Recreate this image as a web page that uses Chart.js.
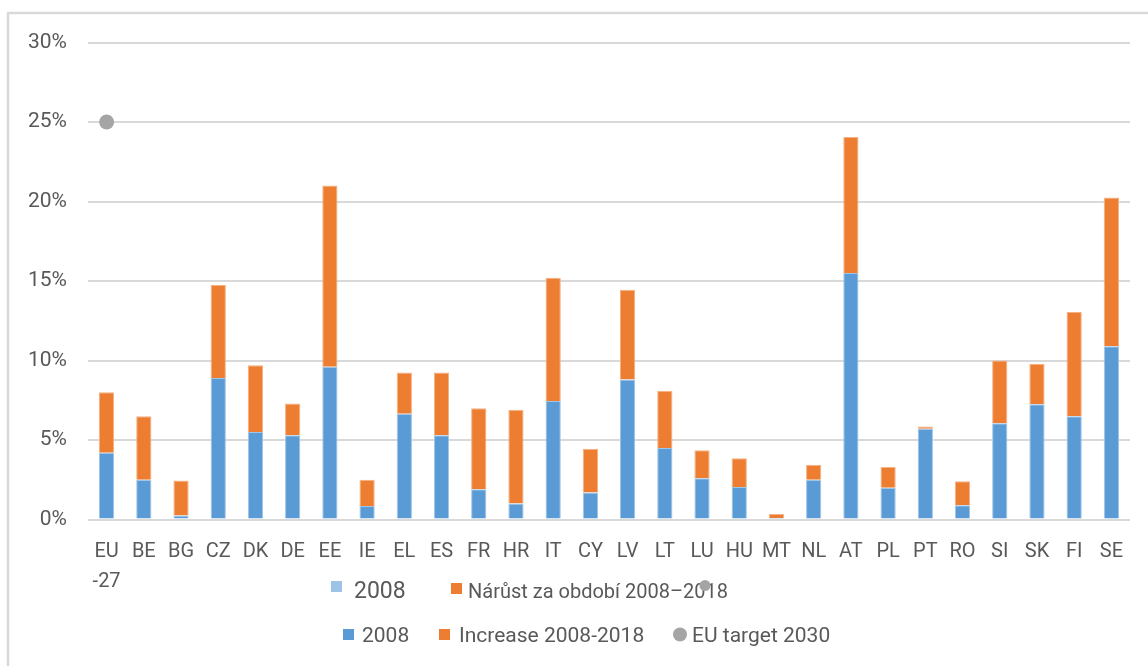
<!DOCTYPE html>
<html>
<head>
<meta charset="utf-8">
<script src="https://cdn.jsdelivr.net/npm/chart.js@4"></script>
<style>
html, body { margin:0; padding:0; background:#fff; }
</style>
</head>
<body>
<canvas id="chart" width="1148" height="666"></canvas>
<script>
const categories = [['EU', '-27'], 'BE', 'BG', 'CZ', 'DK', 'DE', 'EE', 'IE', 'EL', 'ES', 'FR', 'HR', 'IT', 'CY', 'LV', 'LT', 'LU', 'HU', 'MT', 'NL', 'AT', 'PL', 'PT', 'RO', 'SI', 'SK', 'FI', 'SE']
const share2008 = [4.2, 2.5, 0.25, 8.9, 5.5, 5.3, 9.6, 0.85, 6.65, 5.3, 1.9, 1.0, 7.45, 1.7, 8.8, 4.5, 2.6, 2.05, 0.1, 2.5, 15.5, 2.0, 5.7, 0.9, 6.05, 7.25, 6.5, 10.9]
const increase = [3.8, 4.0, 2.2, 5.85, 4.2, 2.0, 11.4, 1.65, 2.6, 3.95, 5.1, 5.9, 7.75, 2.75, 5.65, 3.6, 1.75, 1.8, 0.25, 0.95, 8.55, 1.3, 0.15, 1.5, 3.95, 2.55, 6.55, 9.35]
const target2030 = [25, null, null, null, null, null, null, null, null, null, null, null, null, null, null, null, null, null, null, null, null, null, null, null, null, null, null, null]
const yTicks = [0, 5, 10, 15, 20, 25, 30]
const czechLabels = ['2008', 'Nárůst za období 2008–2018']

const TEXT = '#595959'
const FONT = 'Roboto'

// light grey frame, only top and left edges are visible in the picture
const framePlugin = {
	id:'frame',
	beforeDraw(chart){
		const ctx = chart.ctx
		ctx.save()
		ctx.strokeStyle = '#d9d9d9'
		ctx.lineWidth = 2.5
		ctx.beginPath()
		ctx.moveTo(8, 666)
		ctx.lineTo(8, 13)
		ctx.lineTo(1148, 13)
		ctx.stroke()
		ctx.restore()
	}
}

// two legend rows (the czech one overlapping the english one, as in the source)
const legendPlugin = {
	id:'twoRowLegend',
	afterDraw(chart){
		const ctx = chart.ctx
		const ds = chart.data.datasets
		ctx.save()
		ctx.textBaseline = 'alphabetic'
		ctx.textAlign = 'left'

		// row 1
		ctx.fillStyle = '#9dc3e6'
		ctx.fillRect(331, 581, 11, 11)
		ctx.fillStyle = TEXT
		ctx.font = `23px ${FONT}`
		ctx.fillText(czechLabels[0], 354, 597.5)
		ctx.fillStyle = ds[1].backgroundColor
		ctx.fillRect(451, 583, 11, 11)
		ctx.fillStyle = TEXT
		ctx.font = `20px ${FONT}`
		ctx.fillText(czechLabels[1], 468, 597.5)
		ctx.fillStyle = ds[2].backgroundColor
		ctx.beginPath()
		ctx.arc(705, 585.5, 5.5, 0, Math.PI*2)
		ctx.fill()

		// row 2
		ctx.font = `21px ${FONT}`
		ctx.fillStyle = ds[0].backgroundColor
		ctx.fillRect(343, 629, 11, 11)
		ctx.fillStyle = TEXT
		ctx.fillText(ds[0].label, 362, 642)
		ctx.fillStyle = ds[1].backgroundColor
		ctx.fillRect(439, 629, 11, 11)
		ctx.fillStyle = TEXT
		ctx.fillText(ds[1].label, 459, 642)
		ctx.fillStyle = ds[2].backgroundColor
		ctx.beginPath()
		ctx.arc(680, 634.5, 7, 0, Math.PI*2)
		ctx.fill()
		ctx.fillStyle = TEXT
		ctx.fillText(ds[2].label, 692, 642)
		ctx.restore()
	}
}

new Chart(document.getElementById('chart'), {
	type:'bar',
	data:{
		labels:categories,
		datasets:[
			{
				label:'2008',
				data:share2008,
				backgroundColor:'#5b9bd5',
				borderColor:'#9fc5e8',
				borderWidth:1,
				barPercentage:0.41,
				categoryPercentage:1,
				stack:'share'
			},
			{
				label:'Increase 2008-2018',
				data:increase,
				backgroundColor:'#ed7d31',
				borderColor:'#f5b183',
				borderWidth:1,
				barPercentage:0.41,
				categoryPercentage:1,
				stack:'share'
			},
			{
				type:'line',
				label:'EU target 2030',
				data:target2030,
				backgroundColor:'#a5a5a5',
				borderColor:'#a5a5a5',
				showLine:false,
				pointRadius:7.5,
				pointBorderWidth:0,
				stack:'target'
			}
		]
	},
	options:{
		responsive:false,
		animation:false,
		layout:{ padding:{ top:42.5, right:18, bottom:0, left:0 } },
		plugins:{
			legend:{ display:false },
			tooltip:{ enabled:false }
		},
		scales:{
			x:{
				stacked:true,
				grid:{ display:false, drawTicks:false },
				border:{ display:false },
				ticks:{
					color:TEXT,
					font:{ family:FONT, size:20, lineHeight:1.5 },
					padding:17,
					maxRotation:0,
					autoSkip:false
				},
				afterFit: scale => { scale.height = 146.5 }
			},
			y:{
				stacked:true,
				min:yTicks[0],
				max:yTicks[yTicks.length - 1],
				afterBuildTicks: scale => { scale.ticks = yTicks.map(v => ({ value:v })) },
				grid:{ color:'#d9d9d9', lineWidth:2, drawTicks:false },
				border:{ display:false },
				ticks:{
					color:TEXT,
					font:{ family:FONT, size:21 },
					padding:21,
					callback: v => `${v}%`
				},
				afterFit: scale => { scale.width = 88 }
			}
		}
	},
	plugins:[framePlugin, legendPlugin]
})
</script>
</body>
</html>
